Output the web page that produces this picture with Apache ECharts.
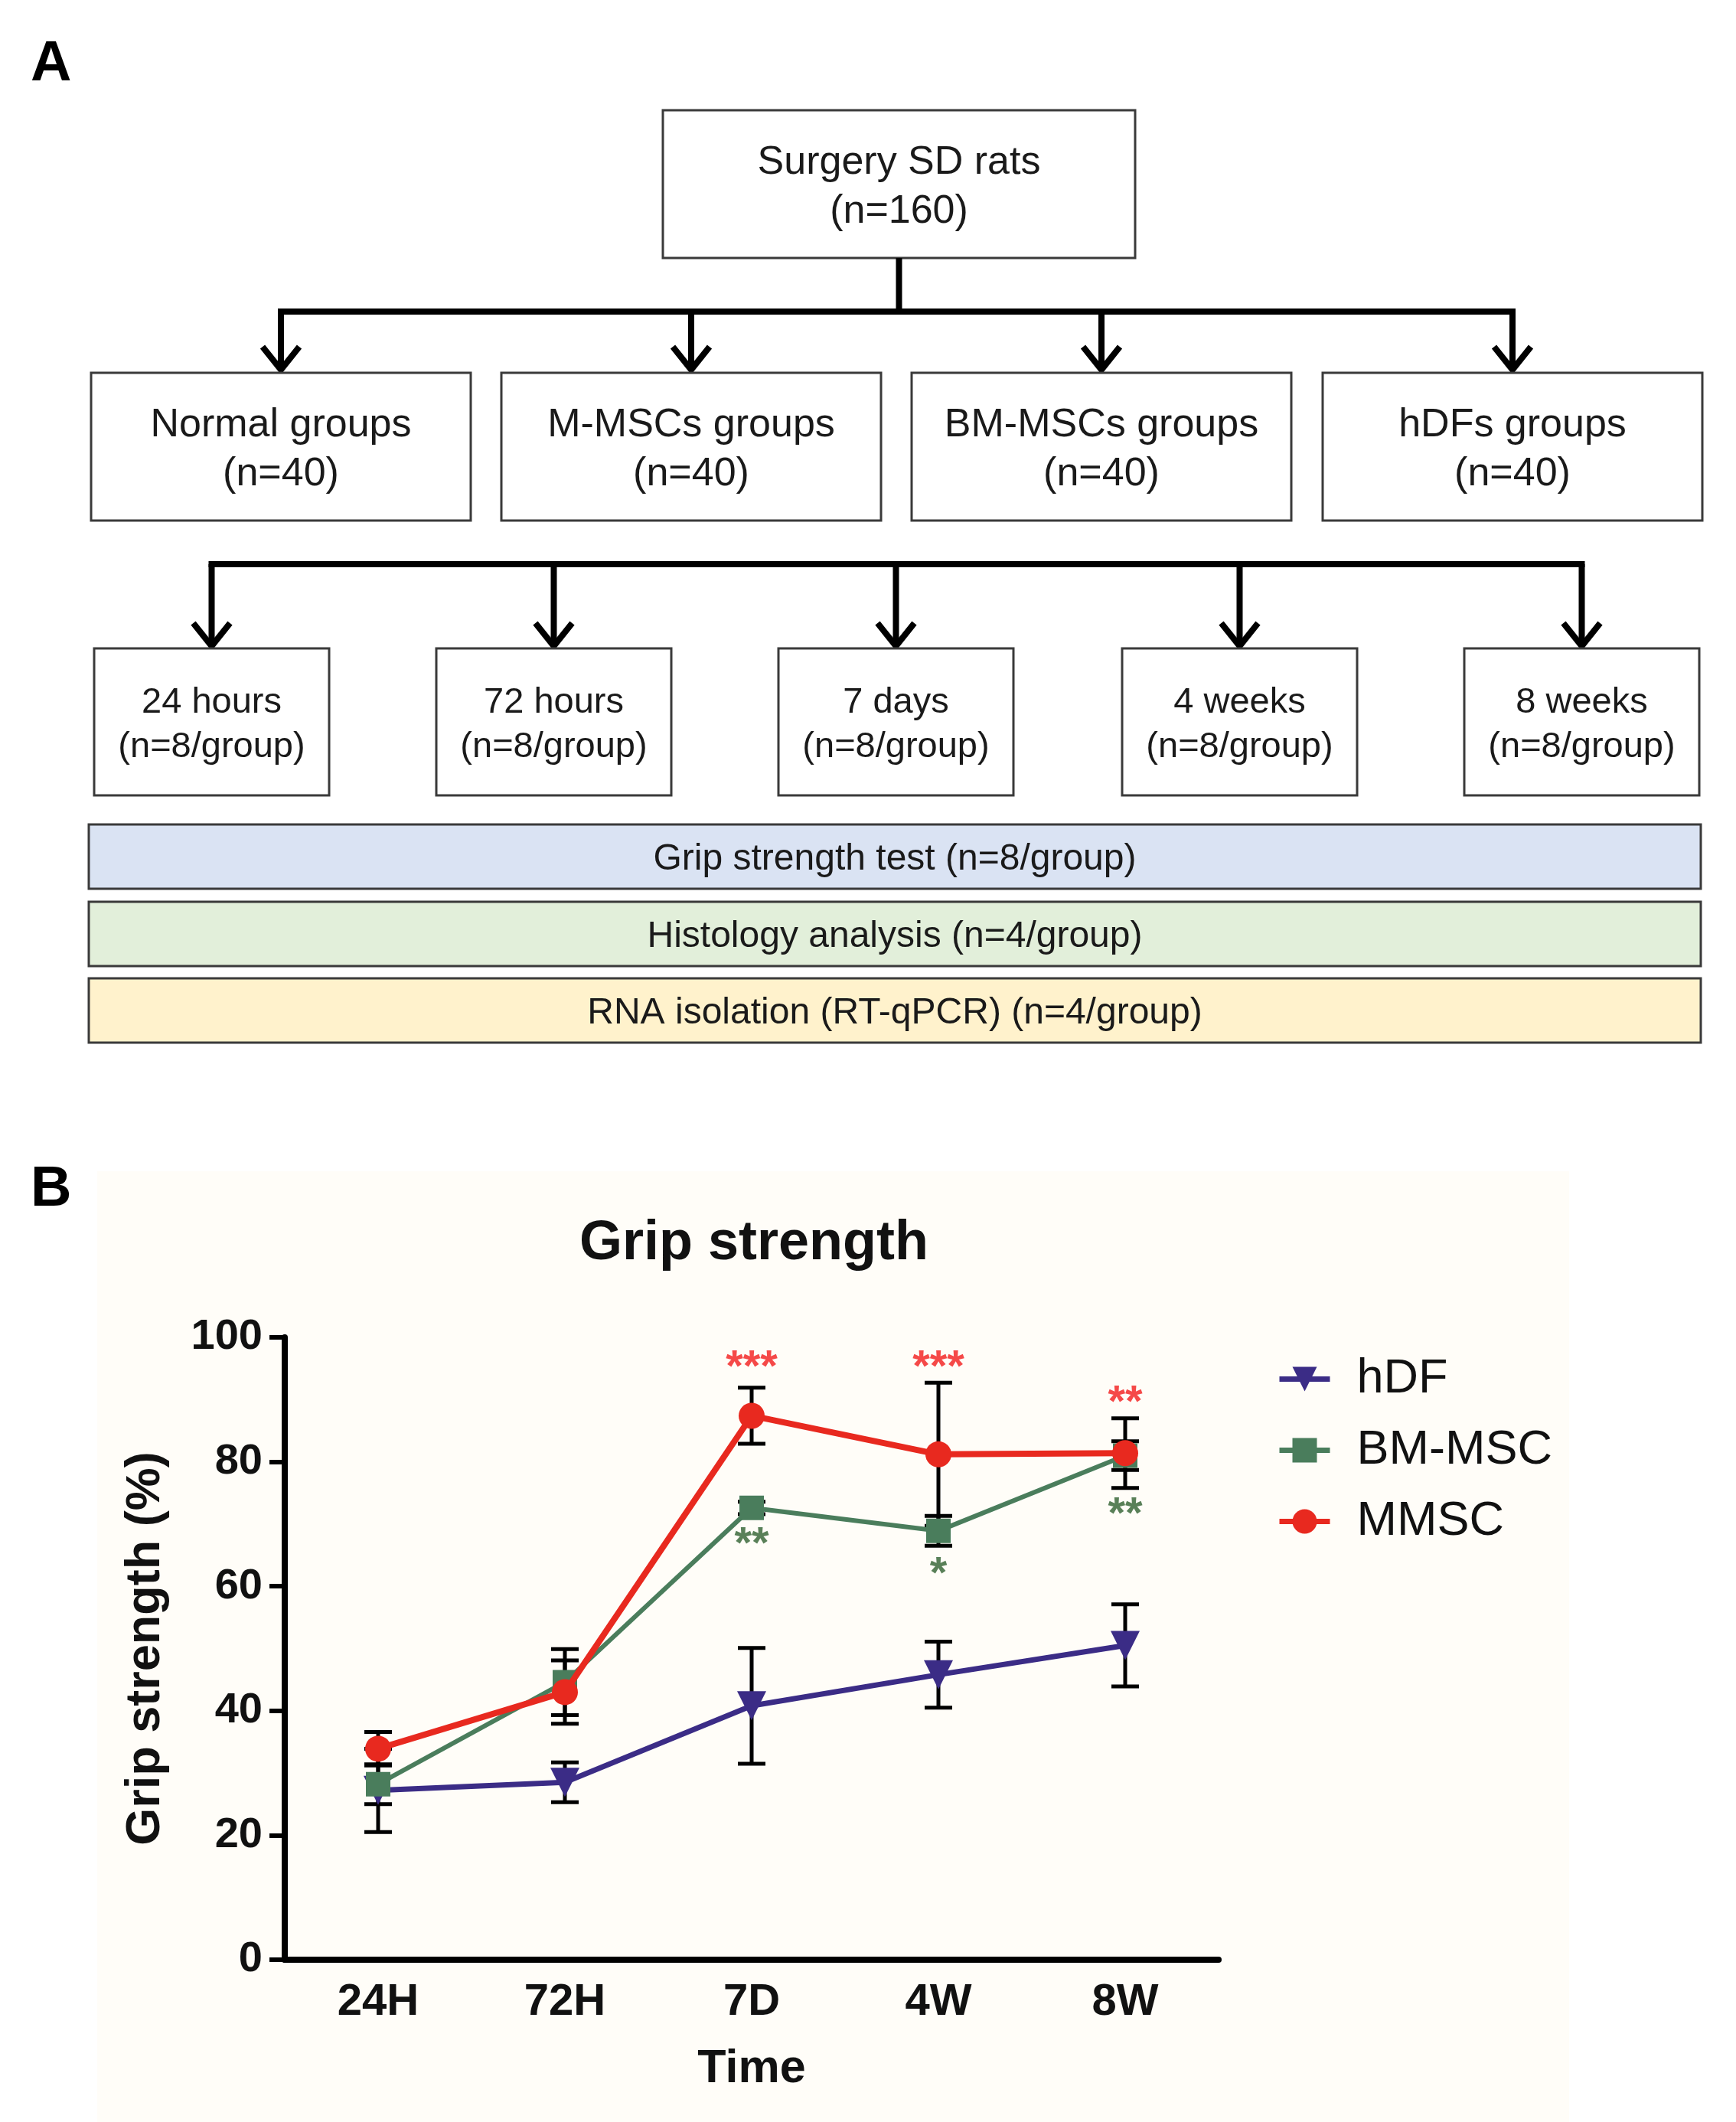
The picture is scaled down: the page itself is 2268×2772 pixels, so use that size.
<!DOCTYPE html>
<html><head><meta charset="utf-8">
<script src="https://cdn.jsdelivr.net/npm/echarts@6/dist/echarts.min.js"></script>
<style>html,body{margin:0;padding:0;background:#fff}#c{width:2268px;height:2772px}</style>
</head><body><div id="c"></div>
<script>
// ---------------- DATA ----------------
const categories = ['24H', '72H', '7D', '4W', '8W'];
const hdfMean = [27.2, 28.5, 40.8, 45.8, 50.5];
const hdfErr  = [6.7, 3.2, 9.3, 5.3, 6.6];
const bmMean  = [28.2, 44.6, 72.6, 68.9, 81.0];
const bmErr   = [3.2, 5.3, 1.0, 2.4, 2.3];
const mmMean  = [33.9, 43.0, 87.4, 81.2, 81.4];
const mmErr   = [2.7, 5.1, 4.5, 11.5, 5.6];
const seriesNames = ['hDF', 'BM-MSC', 'MMSC'];
const redStarCats = ['7D', '4W', '8W'];
const redStarText = ['***', '***', '**'];
const redStarY    = [96.5, 96.5, 90.9];
const greenStarCats = ['7D', '4W', '8W'];
const greenStarText = ['**', '*', '**'];
const greenStarY    = [68.2, 63.3, 73.0];

const topBoxText = ['Surgery SD rats', '(n=160)'];
const groupTexts = [['Normal groups', '(n=40)'], ['M-MSCs groups', '(n=40)'], ['BM-MSCs groups', '(n=40)'], ['hDFs groups', '(n=40)']];
const timeTexts = [['24 hours', '(n=8/group)'], ['72 hours', '(n=8/group)'], ['7 days', '(n=8/group)'], ['4 weeks', '(n=8/group)'], ['8 weeks', '(n=8/group)']];
const assayTexts = ['Grip strength test (n=8/group)', 'Histology analysis (n=4/group)', 'RNA isolation (RT-qPCR) (n=4/group)'];

// ---------------- LAYOUT ----------------
const FONT = "'Liberation Sans', Arial, Helvetica, sans-serif";
const TOP = {x: 866, y: 144, w: 617, h: 193};
const GROUP_X = [119, 655, 1191, 1728], GROUP_W = 496, GROUP_Y = 487, GROUP_H = 193;
const TIME_X = [123, 570, 1017, 1466, 1913], TIME_W = 307, TIME_Y = 847, TIME_H = 192;
const ASSAY_X = 116, ASSAY_W = 2106, ASSAY_Y = [1077, 1178, 1278], ASSAY_H = 84;
const ASSAY_FILL = ['#dae3f3', '#e2efda', '#fff2cc'];
const BUS1_Y = 407, BUS2_Y = 737;
const C_HDF = '#3b2c86', C_BM = '#4a7d5c', C_MM = '#e8291f';

const g = [];
function box(x, y, w, h, fill, lw) {
  g.push({type: 'rect', shape: {x, y, width: w, height: h}, style: {fill: fill || '#fff', stroke: '#3a3a3a', lineWidth: lw || 3}});
}
function txt(x, y, s, size) {
  g.push({type: 'text', x, y, style: {text: s, font: 'normal ' + size + 'px ' + FONT, fill: '#1a1a1a', align: 'center', verticalAlign: 'middle'}});
}
function line(x1, y1, x2, y2, w) {
  g.push({type: 'line', shape: {x1, y1, x2, y2}, style: {stroke: '#000', lineWidth: w || 8}});
}
function arrow(x, y1, tip) {
  line(x, y1, x, tip - 4, 8);
  g.push({type: 'polyline', shape: {points: [[x - 24, tip - 30], [x, tip], [x + 24, tip - 30]]}, style: {stroke: '#000', lineWidth: 8, fill: null, lineJoin: 'miter'}});
}

// panel letters
g.push({type: 'text', x: 40, y: 48, style: {text: 'A', font: 'bold 74px ' + FONT, fill: '#000'}});
g.push({type: 'text', x: 40, y: 1518, style: {text: 'B', font: 'bold 74px ' + FONT, fill: '#000'}});
// chart B background
g.push({type: 'rect', z: -10, shape: {x: 127, y: 1530, width: 1923, height: 1242}, style: {fill: '#fffdf8'}});

// top box
box(TOP.x, TOP.y, TOP.w, TOP.h);
txt(TOP.x + TOP.w / 2, TOP.y + TOP.h / 2 - 28, topBoxText[0], 52);
txt(TOP.x + TOP.w / 2, TOP.y + TOP.h / 2 + 36, topBoxText[1], 52);
line(TOP.x + TOP.w / 2, TOP.y + TOP.h, TOP.x + TOP.w / 2, BUS1_Y);
const gc = GROUP_X.map(x => x + GROUP_W / 2);
line(gc[0] - 4, BUS1_Y, gc[gc.length - 1] + 4, BUS1_Y);
gc.forEach(cx => arrow(cx, BUS1_Y, GROUP_Y - 4));
GROUP_X.forEach((x, i) => {
  box(x, GROUP_Y, GROUP_W, GROUP_H);
  txt(x + GROUP_W / 2, GROUP_Y + GROUP_H / 2 - 28, groupTexts[i][0], 52);
  txt(x + GROUP_W / 2, GROUP_Y + GROUP_H / 2 + 36, groupTexts[i][1], 52);
});
const tc = TIME_X.map(x => x + TIME_W / 2);
line(tc[0] - 4, BUS2_Y, tc[tc.length - 1] + 4, BUS2_Y);
tc.forEach(cx => arrow(cx, BUS2_Y, TIME_Y - 3));
TIME_X.forEach((x, i) => {
  box(x, TIME_Y, TIME_W, TIME_H);
  txt(x + TIME_W / 2, TIME_Y + TIME_H / 2 - 25, timeTexts[i][0], 47);
  txt(x + TIME_W / 2, TIME_Y + TIME_H / 2 + 33, timeTexts[i][1], 47);
});
ASSAY_Y.forEach((y, i) => {
  box(ASSAY_X, y, ASSAY_W, ASSAY_H, ASSAY_FILL[i], 3);
  txt(ASSAY_X + ASSAY_W / 2, y + ASSAY_H / 2 + 4, assayTexts[i], 48);
});

// ---------------- CHART ----------------
function errSeries(name, mean, err) {
  return {
    type: 'custom', name: name + ' err', silent: true, z: 2,
    data: mean.map((m, i) => [i, m - err[i], m + err[i]]),
    encode: {x: 0, y: [1, 2]},
    renderItem: function (params, api) {
      const lo = api.coord([api.value(0), api.value(1)]);
      const hi = api.coord([api.value(0), api.value(2)]);
      const h = 18, st = {stroke: '#000', lineWidth: 5};
      return {type: 'group', children: [
        {type: 'line', shape: {x1: lo[0], y1: lo[1], x2: hi[0], y2: hi[1]}, style: st},
        {type: 'line', shape: {x1: lo[0] - h, y1: lo[1], x2: lo[0] + h, y2: lo[1]}, style: st},
        {type: 'line', shape: {x1: hi[0] - h, y1: hi[1], x2: hi[0] + h, y2: hi[1]}, style: st}
      ]};
    }
  };
}
function starSeries(cats, texts, ys, color) {
  return {
    type: 'scatter', silent: true, z: 6, symbolSize: 1, itemStyle: {color: 'rgba(0,0,0,0)'},
    data: cats.map((c, i) => [c, ys[i]]),
    label: {show: true, position: 'inside', offset: [0, 13], color: color,
      fontFamily: FONT, fontWeight: 'bold', fontSize: 58,
      formatter: p => texts[p.dataIndex]}
  };
}
function lineSeries(name, mean, color, symbol, size, lw, z, rot) {
  return {
    type: 'line', name: name, data: mean, z: z, symbol: symbol, symbolSize: size, symbolRotate: rot || 0,
    lineStyle: {color: color, width: lw}, itemStyle: {color: color}, showSymbol: true
  };
}

const option = {
  animation: false,
  backgroundColor: '#ffffff',
  graphic: g,
  title: {text: 'Grip strength', left: 980, top: 1584, textAlign: 'center',
    textStyle: {fontFamily: FONT, fontWeight: 'bold', fontSize: 72, color: '#111'}},
  legend: {
    orient: 'vertical', left: 1663, top: 1765, itemWidth: 66, itemHeight: 40, itemGap: 30,
    data: seriesNames,
    lineStyle: {width: 7},
    textStyle: {fontFamily: FONT, fontSize: 63, color: '#111', lineHeight: 63, padding: [0, 0, 0, 30]}
  },
  grid: {left: 372, top: 1747, width: 1220, height: 813, containLabel: false},
  xAxis: {
    type: 'category', data: categories, boundaryGap: true,
    axisLine: {lineStyle: {color: '#000', width: 8}},
    axisTick: {alignWithLabel: true, length: 17, lineStyle: {color: '#000', width: 6}},
    axisLabel: {fontFamily: FONT, fontWeight: 'bold', fontSize: 58, color: '#111', margin: 27},
    name: 'Time', nameLocation: 'middle', nameGap: 113,
    nameTextStyle: {fontFamily: FONT, fontWeight: 'bold', fontSize: 61, color: '#111'}
  },
  yAxis: {
    type: 'value', min: 0, max: 100, interval: 20,
    axisLine: {show: true, lineStyle: {color: '#000', width: 8}},
    axisTick: {show: true, length: 20, lineStyle: {color: '#000', width: 6}},
    axisLabel: {fontFamily: FONT, fontWeight: 'bold', fontSize: 56, color: '#111', margin: 29},
    splitLine: {show: false},
    name: 'Grip strength (%)', nameLocation: 'middle', nameGap: 150, nameRotate: 90,
    nameTextStyle: {fontFamily: FONT, fontWeight: 'bold', fontSize: 63, color: '#111'}
  },
  series: [
    errSeries('hDF', hdfMean, hdfErr),
    errSeries('BM-MSC', bmMean, bmErr),
    errSeries('MMSC', mmMean, mmErr),
    lineSeries('hDF', hdfMean, C_HDF, 'triangle', 38, 7, 3, 180),
    lineSeries('BM-MSC', bmMean, C_BM, 'rect', 32, 6, 4),
    lineSeries('MMSC', mmMean, C_MM, 'circle', 34, 8, 5),
    starSeries(redStarCats, redStarText, redStarY, '#f21c1c'),
    starSeries(greenStarCats, greenStarText, greenStarY, '#2f6030')
  ]
};
const chart = echarts.init(document.getElementById('c'), null, {renderer: 'canvas'});
chart.setOption(option);
</script>
</body></html>
